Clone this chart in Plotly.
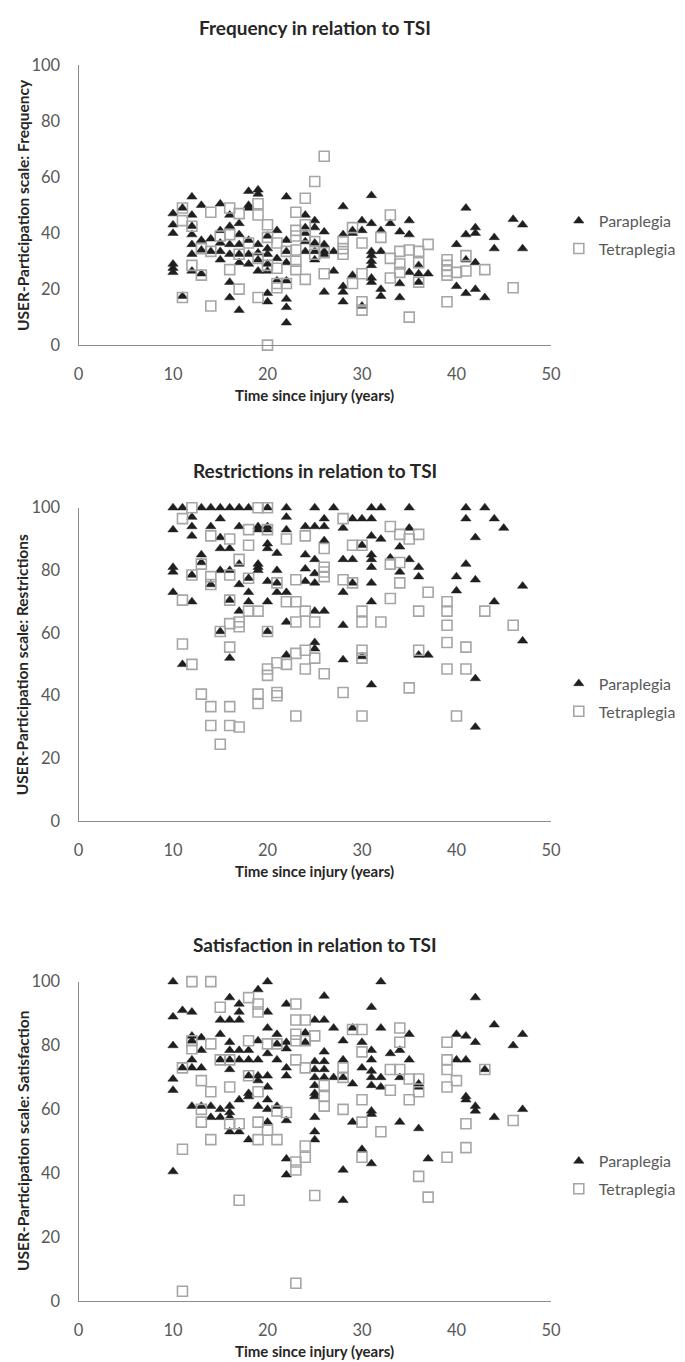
import plotly.graph_objects as go

# --- Frequency panel ---
freq_para_tsi = [10, 10, 10, 10, 10, 10, 11, 11, 12, 12, 12, 12, 12, 12, 12,
                 13, 13, 13, 13, 14, 14, 15, 15, 15, 15, 15, 16, 16, 16, 16, 16, 16,
                 17, 17, 17, 17, 17, 17, 18, 18, 18, 18, 18, 18, 19, 19, 19, 19, 19, 19,
                 20, 20, 20, 20, 20, 20, 20, 21, 21, 21, 22, 22, 22, 22, 22, 22, 22, 22,
                 24, 24, 24, 24, 24, 25, 25, 25, 25, 25, 26, 26, 26, 26, 26, 27, 27,
                 28, 28, 28, 28, 28, 29, 29, 29, 30, 30, 30, 31, 31, 31, 31, 31, 31, 31, 31,
                 32, 32, 32, 32, 33, 34, 34, 34, 35, 35, 35, 36, 36, 36, 37, 40, 40,
                 41, 41, 41, 41, 42, 42, 42, 42, 43, 44, 44, 46, 47, 47]
freq_para_val = [47, 43, 40, 29, 27.5, 26, 49, 17.5, 53, 46.5, 42.5, 39.5, 36, 32.5, 26.5,
                 50, 37.5, 34, 25.5, 38, 33.5, 50.5, 41, 36.5, 33.5, 30.5, 46.5, 42.5, 36, 32.5, 22.5, 17,
                 43.5, 39.5, 36, 32.5, 29.5, 12.5, 55, 50, 49, 37.5, 32.5, 29, 55.5, 54, 36, 33, 30.5, 26.5,
                 39, 34.5, 32.5, 29, 26.5, 18.5, 15.5, 41, 31, 23, 53, 37.5, 33.5, 29.5, 23, 16.5, 13.5, 8,
                 46.5, 42, 40, 37, 33.5, 44.5, 42, 36.5, 33.5, 30.5, 40.5, 36, 33.5, 32.5, 19, 33.5, 26.5,
                 49.5, 39.5, 21, 19, 15.5, 41, 40, 25, 44.5, 41, 14, 53.5, 43.5, 33.5, 32, 30, 28.5, 24, 22.5,
                 41, 33.5, 20, 17.5, 43.5, 40.5, 22, 17, 44.5, 39.5, 26, 28.5, 25.5, 22.5, 25.5, 36, 21,
                 49, 39.5, 30.5, 18.5, 42, 40, 29.5, 20, 17, 38.5, 34.5, 45, 43, 34.5]
freq_tetra_tsi = [11, 11, 11, 12, 12, 13, 13, 14, 14, 14, 15, 16, 16, 16, 17, 17, 17, 18,
                  19, 19, 19, 19, 20, 20, 20, 20, 21, 21, 21, 21, 22, 22,
                  23, 23, 23, 23, 23, 23, 24, 24, 24, 24, 25, 25, 25, 26, 26, 26,
                  28, 28, 28, 29, 29, 30, 30, 30, 30, 32, 33, 33, 33, 34, 34, 34, 35, 35,
                  36, 36, 36, 37, 39, 39, 39, 39, 39, 40, 41, 41, 43, 46]
freq_tetra_val = [49, 44.5, 17, 42.5, 28.5, 34.5, 25, 47.5, 33.5, 14, 39, 49, 39.5, 27, 47, 32.5, 20, 36.5,
                  50.5, 46.5, 31, 17, 43, 38.5, 28.5, 0, 36.5, 27.5, 20.5, 22, 33.5, 22,
                  47.5, 41, 39, 34, 30, 27, 52.5, 43, 39, 23.5, 58.5, 37, 32.5, 67.5, 25.5, 33,
                  37, 34.5, 32.5, 42, 22, 36.5, 25.5, 15.5, 12.5, 38.5, 46.5, 31, 24, 33.5, 29, 26, 34, 10,
                  33.5, 29.5, 22.5, 36, 30.5, 28.5, 26.5, 25, 15.5, 26, 32, 26.5, 27, 20.5]

# --- Restrictions panel ---
restr_para_tsi = [10, 10, 10, 10, 10, 11, 11, 12, 12, 12, 12, 12, 13, 13, 13, 14, 14, 14,
                  15, 15, 15, 15, 15, 15, 16, 16, 16, 16, 16, 17, 17, 17, 17, 17, 18, 18, 18, 18,
                  19, 19, 19, 19, 19, 20, 20, 20, 20, 20, 20, 20, 20, 21, 21, 21, 21,
                  22, 22, 22, 22, 22, 22, 24, 24, 24, 24, 25, 25, 25, 25, 25, 25, 25, 25,
                  26, 26, 26, 26, 27, 28, 28, 28, 28, 28, 29, 29, 29, 30, 30, 30,
                  31, 31, 31, 31, 31, 31, 31, 31, 31, 32, 32, 33, 34, 34, 35, 35, 35,
                  36, 36, 36, 37, 40, 40, 41, 41, 41, 42, 42, 42, 42, 43, 44, 44, 45, 47, 47]
restr_para_val = [100, 93, 81, 79.5, 73, 100, 50, 97, 94, 91, 78.5, 70, 100, 85, 82.5, 100, 94, 75.5,
                  100, 96.5, 90.5, 87, 80, 60.5, 100, 87, 80, 70.5, 52, 100, 94, 82, 75.5, 67, 100, 77.5, 73, 70,
                  94, 93, 82, 81, 80, 100, 94, 93, 88.5, 87, 76.5, 70, 60.5, 85.5, 80, 76, 73,
                  100, 97, 93, 73, 63.5, 53, 94, 85, 80.5, 76.5, 100, 94, 83.5, 79, 76, 67, 57, 55,
                  96.5, 94, 89.5, 67, 100, 93.5, 83.5, 73, 62.5, 51.5, 96.5, 83.5, 76, 96.5, 88, 52.5,
                  100, 96.5, 91, 85, 83.5, 81, 76, 70, 43.5, 100, 90, 84, 87.5, 79.5, 100, 93.5, 83.5,
                  81, 78, 53, 53, 78, 73.5, 100, 96.5, 82, 90.5, 77, 45.5, 30, 100, 96.5, 70, 93.5, 75, 57.5]
restr_tetra_tsi = [11, 11, 11, 12, 12, 12, 13, 13, 14, 14, 14, 14, 14, 15, 15,
                   16, 16, 16, 16, 16, 16, 16, 17, 17, 17, 17, 18, 18, 18, 18, 19, 19, 19, 19,
                   20, 20, 20, 20, 20, 21, 21, 21, 21, 22, 22, 22, 23, 23, 23, 23, 23,
                   24, 24, 24, 24, 25, 25, 26, 26, 26, 26, 26, 28, 28, 28, 29, 29,
                   30, 30, 30, 30, 30, 30, 32, 33, 33, 33, 34, 34, 34, 35, 35, 36, 36, 36,
                   37, 39, 39, 39, 39, 39, 40, 41, 41, 43, 46]
restr_tetra_val = [96.5, 70.5, 56.5, 100, 78.5, 50, 82, 40.5, 91, 78, 75.5, 36.5, 30.5, 60.5, 24.5,
                   90, 78.5, 70.5, 63, 55.5, 36.5, 30.5, 83.5, 63.5, 62, 30, 93, 88, 77.5, 67, 100, 67, 40.5, 37.5,
                   100, 93, 60.5, 48.5, 46.5, 76, 50.5, 41, 40, 90, 70, 50, 77, 70, 63.5, 53.5, 33.5,
                   91, 67, 54.5, 48.5, 63.5, 52, 87, 81, 79.5, 78, 47, 96.5, 77, 41, 88, 76,
                   88, 67, 63.5, 54.5, 52, 33.5, 63.5, 94, 82, 71, 91.5, 82.5, 76, 90, 42.5, 91.5, 67, 54.5,
                   73, 70, 67, 62.5, 57, 48.5, 33.5, 55.5, 48.5, 67, 62.5]

# --- Satisfaction panel ---
satis_para_tsi = [10, 10, 10, 10, 10, 10, 11, 11, 12, 12, 12, 12, 12, 12, 13, 13, 13, 13, 14, 14,
                  15, 15, 15, 15, 15, 16, 16, 16, 16, 16, 16, 16, 16, 16, 16,
                  17, 17, 17, 17, 17, 17, 17, 18, 18, 18, 18, 18, 18, 19, 19, 19, 19, 19, 19,
                  20, 20, 20, 20, 20, 20, 20, 20, 20, 21, 21, 21, 21,
                  22, 22, 22, 22, 22, 22, 22, 22, 24, 24,
                  25, 25, 25, 25, 25, 25, 25, 25, 25, 25, 26, 26, 26, 26, 26, 26, 27, 27,
                  28, 28, 28, 28, 28, 29, 29, 29, 30, 30, 30, 31, 31, 31, 31, 31, 31, 31, 31, 31,
                  32, 32, 32, 32, 33, 34, 34, 34, 35, 35, 36, 36, 36, 37, 40, 40,
                  41, 41, 41, 41, 42, 42, 42, 42, 43, 44, 44, 46, 47, 47]
satis_para_val = [100, 89, 80, 69.5, 66, 40.5, 91, 73, 90.5, 83, 81.5, 75.5, 73, 61, 82.5, 78.5, 73, 61, 61, 57.5,
                  88, 83.5, 75.5, 60, 57.5, 95, 88, 81, 78.5, 75.5, 72.5, 61, 59, 57.5, 53,
                  93, 90.5, 88, 78.5, 75.5, 63, 53, 78.5, 75.5, 70.5, 65, 64, 50.5, 97.5, 81.5, 75.5, 70.5, 69, 61,
                  100, 90.5, 85.5, 77.5, 70.5, 67, 63, 60, 56, 83.5, 80.5, 75.5, 61,
                  93, 81, 79, 73, 70.5, 56.5, 44.5, 39.5, 84, 81,
                  88, 75, 72.5, 70, 67.5, 65, 64, 57.5, 53, 50.5, 95.5, 88, 78, 75, 72.5, 70, 85.5, 70,
                  81.5, 75.5, 70, 41, 31.5, 85.5, 68, 56, 81, 73, 47.5, 92, 78.5, 75.5, 72, 70, 67.5, 59.5, 58.5, 43,
                  100, 85.5, 70, 67, 77.5, 78.5, 70, 56, 83.5, 75.5, 68, 67, 54, 44.5, 83.5, 75.5,
                  83, 75.5, 64, 63, 95, 81, 61, 59.5, 72.5, 86.5, 57.5, 80, 83.5, 60]
satis_tetra_tsi = [11, 11, 11, 12, 12, 12, 13, 13, 13, 14, 14, 14, 14, 15, 15, 16, 16, 16, 17, 17,
                   18, 18, 18, 19, 19, 19, 19, 19, 20, 20, 21, 21, 21, 22,
                   23, 23, 23, 23, 23, 23, 23, 23, 24, 24, 24, 24, 24, 25, 25, 26, 26, 26,
                   28, 28, 28, 29, 30, 30, 30, 30, 30, 32, 33, 33, 34, 34, 34, 35, 35,
                   36, 36, 36, 37, 39, 39, 39, 39, 39, 40, 41, 41, 43, 46]
satis_tetra_val = [73, 47.5, 3, 100, 81.5, 79, 69, 60, 56, 100, 80.5, 65.5, 50.5, 92, 75.5, 75.5, 67, 55.5, 55.5, 31.5,
                   95, 81.5, 70.5, 93, 90.5, 65.5, 56, 50.5, 80.5, 53.5, 80.5, 59.5, 50.5, 59,
                   93, 88, 83.5, 81.5, 75.5, 43.5, 41, 5.5, 88, 81.5, 73, 48.5, 45, 83, 33, 67.5, 64, 61,
                   73, 70, 60, 85, 85, 78, 63, 56, 45, 53, 72.5, 66, 85.5, 81, 72.5, 69.5, 63,
                   69.5, 65.5, 39, 32.5, 81, 75.5, 72.5, 67, 45, 69, 55.5, 48, 72.5, 56.5]

panel_titles = ["Frequency in relation to TSI", "Restrictions in relation to TSI",
                "Satisfaction in relation to TSI"]
y_titles = ["USER-Participation scale: Frequency", "USER-Participation scale: Restrictions",
            "USER-Participation scale: Satisfaction"]
x_title = "Time since injury (years)"
series_names = ["Paraplegia", "Tetraplegia"]
x_ticks = [0, 10, 20, 30, 40, 50]
y_ticks = [0, 20, 40, 60, 80, 100]

W, H = 685, 1362
# plot boxes in pixels (top, bottom)
boxes = [(48, 332), (497, 815), (978, 1302)]
x_left, x_right = 67, 550

FONT = "Lato, 'Open Sans', sans-serif"
TICK_COLOR = "#595959"
TITLE_COLOR = "#262626"
AXIS_COLOR = "#8c8c8c"

panels = [
    (freq_para_tsi, freq_para_val, freq_tetra_tsi, freq_tetra_val),
    (restr_para_tsi, restr_para_val, restr_tetra_tsi, restr_tetra_val),
    (satis_para_tsi, satis_para_val, satis_tetra_tsi, satis_tetra_val),
]

fig = go.Figure()
annotations = []
layout = {}

for i, (ptsi, pval, ttsi, tval) in enumerate(panels):
    n = i + 1
    xa = "x" if n == 1 else f"x{n}"
    ya = "y" if n == 1 else f"y{n}"
    lg = "legend" if n == 1 else f"legend{n}"
    top, bot = boxes[i]

    fig.add_trace(go.Scatter(
        x=ptsi, y=pval, mode="markers", name=series_names[0],
        xaxis=xa, yaxis=ya, legend=lg, legendgroup=f"p{n}", cliponaxis=False,
        marker=dict(symbol="triangle-up", size=9, color="#1f1f1f",
                    line=dict(width=0.5, color="#1f1f1f")),
    ))
    fig.add_trace(go.Scatter(
        x=ttsi, y=tval, mode="markers", name=series_names[1],
        xaxis=xa, yaxis=ya, legend=lg, legendgroup=f"t{n}", cliponaxis=False,
        marker=dict(symbol="square-open", size=10, color="#a6a6a6",
                    line=dict(width=1.6, color="#a6a6a6")),
    ))

    axis_common = dict(
        showline=True, linecolor=AXIS_COLOR, linewidth=1.2, showgrid=False,
        zeroline=False, ticks="", tickfont=dict(family=FONT, size=16.5, color=TICK_COLOR),
        fixedrange=True,
    )
    layout[f"xaxis{'' if n == 1 else n}"] = dict(
        axis_common, domain=[x_left / W, x_right / W], range=[0, 50],
        tickvals=x_ticks, anchor=ya, ticklabelstandoff=14,
    )
    layout[f"yaxis{'' if n == 1 else n}"] = dict(
        axis_common, domain=[1 - bot / H, 1 - top / H], range=[0, 100],
        tickvals=y_ticks, anchor=xa, ticklabelstandoff=14,
    )
    mid_leg = top + 0.606 * (bot - top)
    layout[lg] = dict(
        x=558 / W, xanchor="left", y=1 - mid_leg / H, yanchor="middle",
        font=dict(family=FONT, size=16, color=TICK_COLOR),
        bgcolor="rgba(0,0,0,0)", tracegroupgap=4, traceorder="grouped",
        itemwidth=30,
    )

    annotations.append(dict(
        text=f"<b>{panel_titles[i]}</b>", x=(x_left + x_right) / 2 / W, y=1 - (top - 38) / H,
        xref="paper", yref="paper", showarrow=False, xanchor="center", yanchor="middle",
        font=dict(family=FONT, size=19, color=TITLE_COLOR),
    ))
    annotations.append(dict(
        text=f"<b>{x_title}</b>", x=(x_left + x_right) / 2 / W, y=1 - (bot + 51) / H,
        xref="paper", yref="paper", showarrow=False, xanchor="center", yanchor="middle",
        font=dict(family=FONT, size=15, color=TITLE_COLOR),
    ))
    annotations.append(dict(
        text=f"<b>{y_titles[i]}</b>", x=10 / W, y=1 - (top + bot) / 2 / H, textangle=-90,
        xref="paper", yref="paper", showarrow=False, xanchor="center", yanchor="middle",
        font=dict(family=FONT, size=15.5, color=TITLE_COLOR),
    ))

fig.update_layout(
    width=W, height=H, margin=dict(l=0, r=0, t=0, b=0),
    paper_bgcolor="white", plot_bgcolor="white",
    annotations=annotations, **layout,
)

fig.write_html("out.html")
